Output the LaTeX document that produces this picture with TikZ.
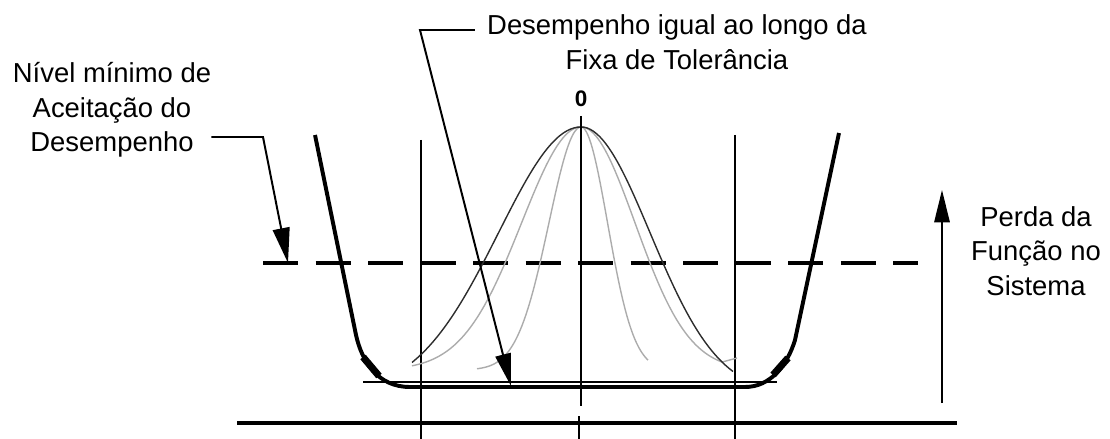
\documentclass[tikz,border=0pt]{standalone}
\usepackage{fontspec}
\setmainfont{Liberation Sans}
\usetikzlibrary{arrows.meta,calc}
\definecolor{bellgray}{RGB}{172,172,172}
\definecolor{belldark}{RGB}{45,45,45}

\begin{document}
\begin{tikzpicture}[x=0.025cm,y=-0.025cm,
    lbl/.style={align=center,inner sep=0pt,font=\fontsize{19.5}{24.5}\selectfont},
    leader/.style={line width=1.4pt,-{Triangle[length=25pt,width=12pt]}},
    tub/.style={line width=2.8pt,line join=round},
    tubmark/.style={line width=5pt},
    guide/.style={line width=1.4pt},
    bell/.style={line width=1pt,smooth,samples=50}]
  \useasboundingbox (0,0) rectangle (1110,439);

  \node[lbl] (toplbl) at (677,42) {Desempenho igual ao longo da\\Fixa de Tolerância};
  \node[lbl] (minlbl) at (112,110) {Nível mínimo de\\Aceitação do\\Desempenho};
  \node[lbl] (losslbl) at (1036,251) {Perda da\\Função no\\Sistema};
  \node[font=\fontsize{16}{18}\selectfont\bfseries,inner sep=0pt] (zero) at (581,99) {0};

  \coordinate (bendT) at (420,30);
  \coordinate (tipT) at (511,386);
  \coordinate (bendL) at (263,137);
  \coordinate (tipL) at (288,263);
  \coordinate (losstop) at (942,190);
  \coordinate (lossbase) at (942,403);
  \coordinate (tubL) at (315,135);
  \coordinate (tubR) at (839,133);

  \draw[guide] (421,140) -- (421,439);
  \draw[guide] (735,135) -- (735,439);
  \draw[line width=2.8pt] (237,423) -- (957,423);
  \draw[line width=1.5pt] (579,416) -- (579,439);
  \draw[line width=1pt] (363,382) -- (777,382);
  \draw[line width=2.8pt,dash pattern=on 24.9pt off 12.45pt] (263,263) -- (918,263);

  \draw[bell,bellgray] plot[domain=412:581] (\x,{370-243*exp(-0.5*pow((\x-581)/59.3,2))})
    -- plot[domain=581:722] (\x,{370-243*exp(-0.5*pow((\x-581)/53.9,2))}) -- (737,358);
  \draw[bell,bellgray] plot[domain=477:581] (\x,{370-243*exp(-0.5*pow((\x-581)/32,2))})
    -- plot[domain=581:648] (\x,{370-243*exp(-0.5*pow((\x-581)/26.5,2))});
  \draw[bell,belldark] plot[domain=412:581] (\x,{395-268*exp(-0.5*pow((\x-581)/82.3,2))})
    -- plot[domain=581:733] (\x,{395-268*exp(-0.5*pow((\x-581)/68.9,2))});
  \draw[line width=0.8pt] (581,116) -- (581,406);

  \draw[tub] (tubL) -- (356,335) .. controls (362,362) and (378,387) .. (410,387)
    -- (745,387) .. controls (770,387) and (787,366) .. (795,340) -- (tubR);
  \draw[tubmark] (363,357) -- (379,376);
  \draw[tubmark] (773,375) -- (788,358);

  \draw[leader] (minlbl.east |- bendL) -- (bendL) -- (tipL);
  \draw[leader,-{Triangle[length=23pt,width=11pt]}] ($(toplbl.west |- bendT)+(-12,0)$) -- (bendT) -- (tipT);
  \draw[line width=1.1pt,-{Triangle[length=23pt,width=11pt]}] (lossbase) -- (losstop);
\end{tikzpicture}
\end{document}
